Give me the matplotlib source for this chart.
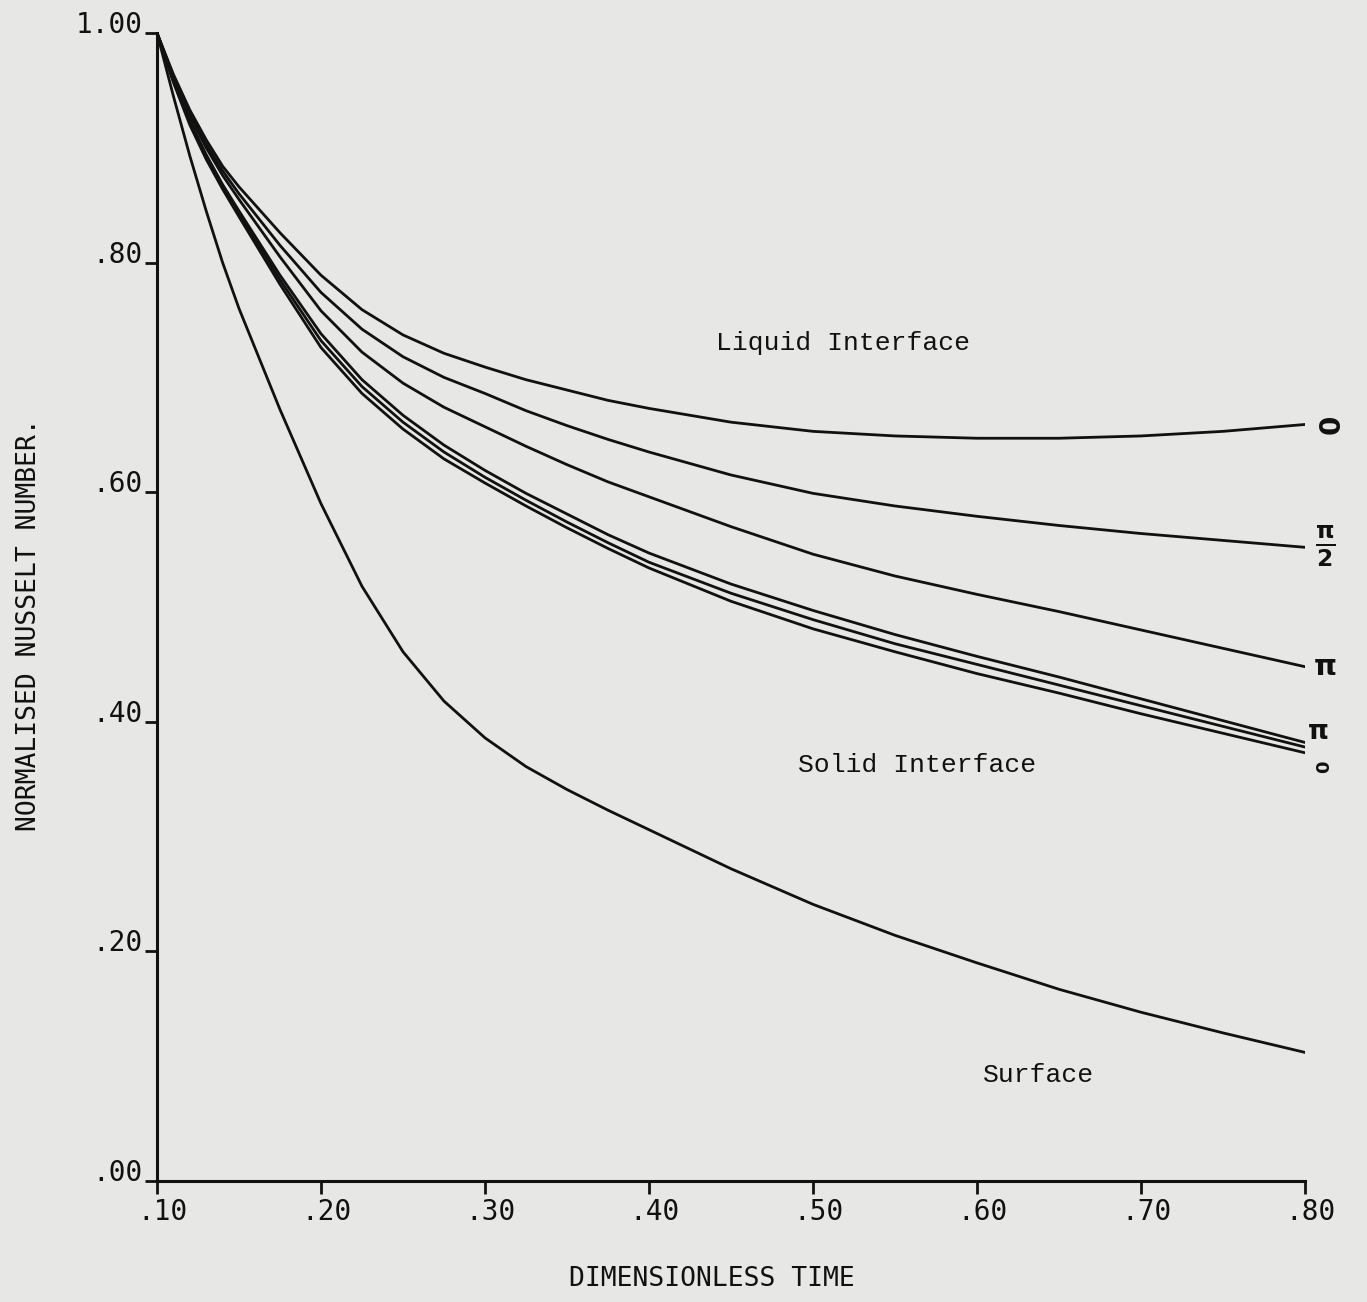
import matplotlib
matplotlib.use("Agg")
import matplotlib.pyplot as plt
import matplotlib.transforms as mtransforms

plt.rcParams["mathtext.fontset"] = "dejavusans"
plt.rcParams["mathtext.default"] = "bf"

# ---- data ----
time = [0.10, 0.11, 0.12, 0.13, 0.14, 0.15, 0.175, 0.20, 0.225, 0.25, 0.275,
        0.30, 0.325, 0.35, 0.375, 0.40, 0.45, 0.50, 0.55, 0.60, 0.65, 0.70, 0.75, 0.80]

liquid_0 = [1.00, 0.964, 0.933, 0.907, 0.884, 0.866, 0.826, 0.789, 0.759, 0.737, 0.721,
            0.709, 0.698, 0.689, 0.680, 0.673, 0.661, 0.653, 0.649, 0.647, 0.647, 0.649,
            0.653, 0.659]
liquid_pi2 = [1.00, 0.962, 0.930, 0.903, 0.880, 0.860, 0.815, 0.774, 0.742, 0.718, 0.700,
              0.686, 0.671, 0.658, 0.646, 0.635, 0.615, 0.599, 0.588, 0.579, 0.571, 0.564,
              0.558, 0.552]
liquid_pi = [1.00, 0.961, 0.928, 0.900, 0.876, 0.855, 0.805, 0.758, 0.722, 0.695, 0.674,
             0.657, 0.640, 0.624, 0.609, 0.596, 0.570, 0.546, 0.527, 0.511, 0.496, 0.480,
             0.464, 0.448]
solid_pi = [1.00, 0.959, 0.924, 0.894, 0.868, 0.845, 0.789, 0.738, 0.698, 0.667, 0.641,
            0.619, 0.599, 0.581, 0.563, 0.547, 0.520, 0.497, 0.476, 0.457, 0.439, 0.420,
            0.401, 0.382]
solid_pi2 = [1.00, 0.958, 0.922, 0.892, 0.866, 0.843, 0.785, 0.732, 0.692, 0.661, 0.635,
             0.613, 0.593, 0.574, 0.556, 0.539, 0.512, 0.489, 0.468, 0.450, 0.432, 0.414,
             0.396, 0.378]
solid_0 = [1.00, 0.957, 0.920, 0.890, 0.864, 0.840, 0.781, 0.726, 0.686, 0.655, 0.629,
           0.608, 0.588, 0.569, 0.551, 0.534, 0.505, 0.481, 0.461, 0.442, 0.425, 0.407,
           0.390, 0.373]
surface = [1.00, 0.945, 0.893, 0.845, 0.800, 0.760, 0.672, 0.590, 0.518, 0.461, 0.418,
           0.386, 0.361, 0.341, 0.323, 0.306, 0.272, 0.241, 0.214, 0.190, 0.167, 0.147,
           0.129, 0.112]

xticks = [0.10, 0.20, 0.30, 0.40, 0.50, 0.60, 0.70, 0.80]
xtick_labels = [".10", ".20", ".30", ".40", ".50", ".60", ".70", ".80"]
yticks = [0.0, 0.2, 0.4, 0.6, 0.8, 1.0]
ytick_labels = [".00", ".20", ".40", ".60", ".80", "1.00"]

end_labels = ["0", r"$\frac{\pi}{2}$", "π", "π", "0"]

# ---- figure ----
bg = "#e7e7e5"
ink = "#111111"
fig = plt.figure(figsize=(13.67, 13.02), dpi=100, facecolor=bg)
ax = fig.add_axes([157/1367, 1 - 1181/1302, (1305-157)/1367, (1181-33)/1302])
ax.set_facecolor(bg)

lw = 2.0
for series in [liquid_0, liquid_pi2, liquid_pi, solid_pi, solid_pi2, solid_0, surface]:
    ax.plot(time, series, color=ink, lw=lw, solid_joinstyle="round")

ax.set_xlim(0.10, 0.80)
ax.set_ylim(0.0, 1.0)
for s in ["top", "right"]:
    ax.spines[s].set_visible(False)
for s in ["left", "bottom"]:
    ax.spines[s].set_linewidth(2.2)
    ax.spines[s].set_color(ink)

mono = "DejaVu Sans Mono"
ax.set_xticks(xticks)
ax.set_xticklabels(xtick_labels, fontfamily=mono, fontsize=20)
ax.set_yticks(yticks)
ax.set_yticklabels(ytick_labels, fontfamily=mono, fontsize=20)
ax.tick_params(axis="both", direction="out", length=9, width=2, color=ink,
               labelcolor=ink)
ax.tick_params(axis="x", pad=3)
ax.tick_params(axis="y", pad=1)
for lab in ax.get_yticklabels():
    lab.set_va("baseline")
offset = mtransforms.ScaledTranslation(6/100, 0, fig.dpi_scale_trans)
for lab in ax.get_xticklabels():
    lab.set_transform(lab.get_transform() + offset)

ax.set_xlabel("DIMENSIONLESS TIME", fontfamily=mono, fontsize=19, color=ink)
ax.set_ylabel("NORMALISED NUSSELT NUMBER.", fontfamily=mono, fontsize=19, color=ink)
ax.xaxis.set_label_coords(0.483, -0.074)
ax.yaxis.set_label_coords(-0.100, 0.485)

tw = "Liberation Mono"
ax.text(0.4409, 0.730, "Liquid Interface", fontfamily=tw, fontsize=19,
        color=ink, va="center", ha="left")
ax.text(0.4909, 0.362, "Solid Interface", fontfamily=tw, fontsize=19,
        color=ink, va="center", ha="left")
ax.text(0.6037, 0.0923, "Surface", fontfamily=tw, fontsize=19,
        color=ink, va="center", ha="left")

# end-of-curve labels
end_y = [0.659, 0.553, 0.448, 0.391, 0.361]
end_x = [0.816, 0.8125, 0.8125, 0.808, 0.8115]
sizes = [20, 24, 21, 19, 13]
rots = [90, 0, 0, 0, 90]
for lab, yy, xx, sz, rot in zip(end_labels, end_y, end_x, sizes, rots):
    ax.text(xx, yy, lab, fontsize=sz, fontweight="bold", color=ink,
            ha="center", va="center", rotation=rot, clip_on=False)

fig.savefig("out.png", dpi=100, facecolor=bg)
